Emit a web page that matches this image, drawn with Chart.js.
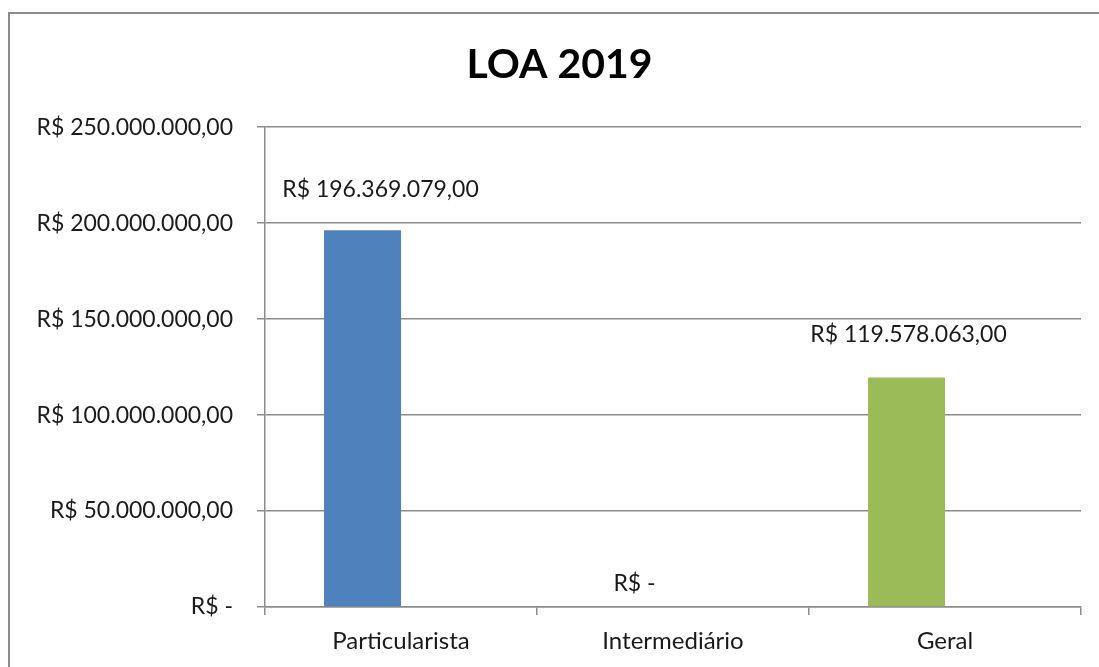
<!DOCTYPE html>
<html>
<head>
<meta charset="utf-8">
<script src="https://cdn.jsdelivr.net/npm/chart.js@4.4.1/dist/chart.umd.min.js"></script>
<style>
  html, body { margin: 0; padding: 0; background: #fff; }
  #frame {
    position: absolute; left: 8px; top: 12px; width: 1200px; height: 800px;
    border-top: 2px solid #8c8c8c; border-left: 2px solid #8c8c8c;
  }
  #wrap { position: absolute; left: 0; top: 0; width: 1099px; height: 667px; }
</style>
</head>
<body>
<div id="frame"></div>
<div id="wrap"><canvas id="chart" width="1099" height="667"></canvas></div>
<script>
const categories = ['Particularista', 'Intermediário', 'Geral'];
const loaValues = [196369079, 0, 119578063];
const emptySeries = [null, null, null];
const barColors = ['#4F81BD', '#C0504D', '#9BBB59'];
const yMax = 250000000;
const yStep = 50000000;

const FONT = 'Lato, "Noto Sans", sans-serif';

function brl(v) {
  if (v === 0) return 'R$ -';
  const parts = v.toFixed(2).split('.');
  return 'R$ ' + parts[0].replace(/\B(?=(\d{3})+(?!\d))/g, '.') + ',' + parts[1];
}

// label offsets from the top of each bar (x, y)
const labelShift = [[18, -41], [0, -23], [2, -43]];

const valueLabels = {
  id: 'valueLabels',
  afterDatasetsDraw(chart) {
    const ctx = chart.ctx;
    const meta = chart.getDatasetMeta(0);
    ctx.save();
    ctx.font = '23px ' + FONT;
    ctx.fillStyle = '#1a1a1a';
    ctx.textAlign = 'center';
    ctx.textBaseline = 'middle';
    meta.data.forEach((bar, i) => {
      const s = labelShift[i];
      ctx.fillText(brl(loaValues[i]), bar.x + s[0], bar.y + s[1]);
    });
    ctx.restore();
  }
};

new Chart(document.getElementById('chart'), {
  type: 'bar',
  data: {
    labels: categories,
    datasets: [
      {
        label: 'LOA 2019',
        data: loaValues,
        backgroundColor: barColors,
        categoryPercentage: 0.566,
        barPercentage: 1
      },
      {
        label: '',
        data: emptySeries,
        backgroundColor: '#8064A2',
        categoryPercentage: 0.566,
        barPercentage: 1
      }
    ]
  },
  options: {
    responsive: false,
    animation: false,
    layout: { padding: { left: 38, right: 18, top: 0, bottom: 0 } },
    plugins: {
      legend: { display: false },
      tooltip: { enabled: false },
      title: {
        display: true,
        text: 'LOA 2019',
        color: '#000',
        font: { family: FONT, size: 41, weight: 'bold', lineHeight: 1.2 },
        padding: { top: 40, bottom: 38 }
      }
    },
    scales: {
      x: {
        afterFit(scale) { scale.height = 60; },
        grid: {
          offset: true,
          drawOnChartArea: false,
          drawTicks: true,
          tickLength: 8,
          color: '#8c8c8c',
          lineWidth: 1.5
        },
        border: { display: true, color: '#8c8c8c', width: 1.5 },
        ticks: {
          color: '#1a1a1a',
          padding: 12,
          font: { family: FONT, size: 24 }
        }
      },
      y: {
        min: 0,
        max: yMax,
        afterFit(scale) { scale.width = 227; },
        grid: {
          color: '#8c8c8c',
          lineWidth: 1.5,
          drawTicks: true,
          tickLength: 8
        },
        border: { display: true, color: '#8c8c8c', width: 1.5 },
        ticks: {
          stepSize: yStep,
          color: '#1a1a1a',
          padding: 24,
          font: { family: FONT, size: 23 },
          callback: v => brl(v)
        }
      }
    }
  },
  plugins: [valueLabels]
});
</script>
</body>
</html>
